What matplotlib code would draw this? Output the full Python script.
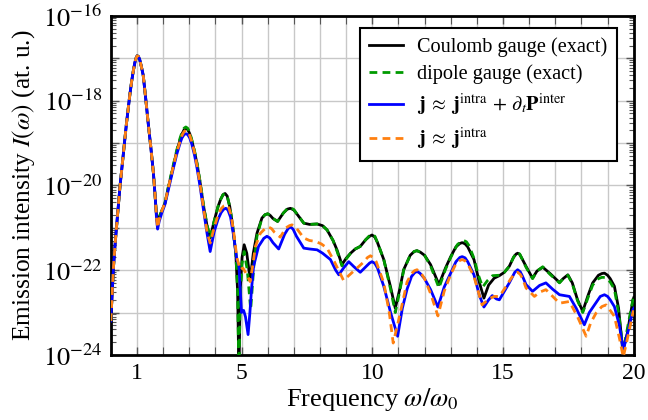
import numpy as np
import matplotlib
matplotlib.use("Agg")
import matplotlib.pyplot as plt
from matplotlib.ticker import FixedLocator, LogLocator, FuncFormatter, NullFormatter

# ---------------- data (log10 of emission intensity, at. u.) ----------------
x_coulomb = [0.0, 0.05, 0.1, 0.16, 0.22, 0.35, 0.48, 0.6, 0.73, 0.8, 0.86, 0.92, 0.97, 1.01,
             1.06, 1.11, 1.17, 1.24, 1.33, 1.43, 1.53, 1.63, 1.7, 1.75, 1.79, 1.85, 1.95, 2.07,
             2.2, 2.39, 2.52, 2.65, 2.72, 2.8, 2.87, 2.94, 3.02, 3.1, 3.2, 3.3, 3.42, 3.55,
             3.68, 3.8, 3.95, 4.1, 4.2, 4.29, 4.37, 4.45, 4.55, 4.65, 4.78, 4.85, 4.9, 4.95,
             5.02, 5.1, 5.2, 5.33, 5.45, 5.59, 5.78, 5.9, 6.0, 6.1, 6.2, 6.38, 6.6, 6.75, 6.87,
             7.0, 7.15, 7.38, 7.6, 7.89, 8.1, 8.27, 8.5, 8.65, 8.84, 9.0, 9.17, 9.35, 9.54,
             9.75, 9.9, 9.99, 10.1, 10.2, 10.44, 10.7, 10.88, 11.05, 11.2, 11.45, 11.6, 11.71,
             11.85, 12.0, 12.23, 12.55, 12.8, 13.0, 13.2, 13.35, 13.44, 13.55, 13.65, 13.89,
             14.1, 14.27, 14.45, 14.66, 14.86, 15.05, 15.24, 15.4, 15.5, 15.56, 15.64, 15.72,
             15.88, 16.13, 16.3, 16.52, 16.8, 17.16, 17.3, 17.48, 17.65, 17.85, 18.05, 18.25,
             18.43, 18.65, 18.78, 18.88, 19.0, 19.1, 19.26, 19.42, 19.58, 19.75, 19.97, 20.0]
logI_coulomb = [-23.2, -22.55, -21.95, -21.42, -20.97, -20.03, -19.25, -18.53, -17.85, -17.53,
                -17.3, -17.1, -16.99, -16.94, -16.96, -17.04, -17.2, -17.4, -17.92, -18.53,
                -19.1, -19.71, -20.3, -20.72, -20.9, -20.75, -20.6, -20.42, -20.05, -19.55,
                -19.2, -18.92, -18.79, -18.69, -18.65, -18.68, -18.78, -18.95, -19.2, -19.5,
                -19.95, -20.5, -20.95, -21.24, -20.85, -20.5, -20.33, -20.22, -20.19, -20.25,
                -20.5, -20.9, -21.6, -22.5, -24.5, -22.5, -21.7, -21.4, -21.6, -22.23, -21.6,
                -21.13, -20.77, -20.69, -20.67, -20.71, -20.78, -20.85, -20.65, -20.56, -20.54,
                -20.58, -20.7, -20.89, -20.92, -20.91, -20.95, -21.05, -21.3, -21.52, -21.87,
                -21.72, -21.6, -21.5, -21.44, -21.28, -21.2, -21.17, -21.22, -21.35, -21.75,
                -22.4, -22.9, -22.45, -21.99, -21.65, -21.56, -21.54, -21.58, -21.65, -21.87,
                -22.34, -21.95, -21.68, -21.45, -21.37, -21.35, -21.38, -21.45, -21.75, -22.3,
                -22.66, -22.35, -22.19, -22.13, -22.05, -21.91, -21.7, -21.62, -21.6, -21.63,
                -21.72, -21.91, -22.19, -22.02, -21.93, -22.08, -22.29, -22.2, -22.11, -22.3,
                -22.7, -22.97, -22.6, -22.3, -22.12, -22.08, -22.07, -22.12, -22.2, -22.38,
                -22.9, -23.9, -23.5, -22.7, -22.65]

x_dipole = [0.0, 0.05, 0.1, 0.16, 0.22, 0.35, 0.48, 0.6, 0.73, 0.8, 0.86, 0.92, 0.97, 1.01,
            1.06, 1.11, 1.17, 1.24, 1.33, 1.43, 1.53, 1.63, 1.7, 1.75, 1.79, 1.85, 1.95, 2.07,
            2.2, 2.39, 2.52, 2.65, 2.72, 2.8, 2.87, 2.94, 3.02, 3.1, 3.2, 3.3, 3.42, 3.55,
            3.68, 3.8, 3.95, 4.1, 4.2, 4.29, 4.37, 4.45, 4.55, 4.65, 4.78, 4.85, 4.9, 4.95,
            5.02, 5.1, 5.22, 5.35, 5.47, 5.59, 5.78, 5.9, 6.0, 6.1, 6.2, 6.38, 6.6, 6.75, 6.87,
            7.0, 7.15, 7.38, 7.6, 7.89, 8.1, 8.27, 8.5, 8.65, 8.84, 9.0, 9.17, 9.35, 9.54,
            9.75, 9.9, 9.99, 10.1, 10.2, 10.44, 10.7, 10.88, 11.05, 11.2, 11.45, 11.6, 11.71,
            11.85, 12.0, 12.23, 12.55, 12.8, 13.0, 13.25, 13.4, 13.5, 13.6, 13.7, 13.89,
            14.05, 14.22, 14.4, 14.6, 14.86, 15.05, 15.24, 15.4, 15.5, 15.56, 15.64, 15.72,
            15.88, 16.13, 16.3, 16.52, 16.8, 17.16, 17.3, 17.48, 17.65, 17.85, 18.05, 18.25,
            18.43, 18.65, 18.78, 18.9, 19.0, 19.1, 19.26, 19.42, 19.6, 19.78, 20.0]
logI_dipole = [-23.2, -22.55, -21.95, -21.42, -20.97, -20.03, -19.25, -18.53, -17.85, -17.53,
               -17.3, -17.1, -16.99, -16.94, -16.96, -17.04, -17.2, -17.4, -17.92, -18.53,
               -19.1, -19.71, -20.3, -20.72, -20.9, -20.75, -20.6, -20.42, -20.03, -19.52,
               -19.17, -18.88, -18.75, -18.65, -18.62, -18.65, -18.75, -18.93, -19.18, -19.48,
               -19.93, -20.48, -20.93, -21.24, -20.85, -20.5, -20.33, -20.22, -20.19, -20.25,
               -20.5, -20.9, -21.6, -22.5, -24.5, -22.6, -21.85, -21.56, -22.0, -22.93, -21.9,
               -21.2, -20.77, -20.69, -20.67, -20.71, -20.78, -20.85, -20.65, -20.55, -20.52,
               -20.57, -20.7, -20.89, -20.92, -20.91, -20.95, -21.05, -21.3, -21.55, -21.9,
               -21.74, -21.6, -21.5, -21.44, -21.28, -21.18, -21.15, -21.2, -21.35, -21.75,
               -22.45, -23.0, -22.5, -22.0, -21.65, -21.56, -21.54, -21.58, -21.65, -21.9,
               -22.42, -21.98, -21.7, -21.4, -21.32, -21.3, -21.33, -21.42, -21.72, -22.1,
               -22.4, -22.25, -22.13, -22.12, -22.05, -21.91, -21.7, -21.6, -21.58, -21.62,
               -21.72, -21.93, -22.2, -22.02, -21.92, -22.1, -22.3, -22.2, -22.12, -22.32,
               -22.72, -23.0, -22.65, -22.35, -22.2, -22.17, -22.17, -22.22, -22.28, -22.45,
               -23.0, -23.9, -23.3, -22.6]

x_intra_inter = [0.0, 0.05, 0.1, 0.16, 0.22, 0.35, 0.48, 0.6, 0.73, 0.8, 0.86, 0.92, 0.97,
                 1.01, 1.06, 1.11, 1.17, 1.24, 1.33, 1.43, 1.53, 1.63, 1.7, 1.75, 1.79, 1.85,
                 1.95, 2.07, 2.2, 2.39, 2.52, 2.65, 2.72, 2.8, 2.87, 2.94, 3.02, 3.1, 3.2, 3.3,
                 3.42, 3.55, 3.68, 3.8, 3.95, 4.1, 4.22, 4.32, 4.4, 4.48, 4.58, 4.7, 4.82, 4.9,
                 5.0, 5.08, 5.15, 5.25, 5.32, 5.38, 5.46, 5.65, 5.85, 5.97, 6.08, 6.2, 6.42,
                 6.65, 6.78, 6.87, 6.97, 7.1, 7.38, 7.6, 7.89, 8.1, 8.4, 8.6, 8.72, 8.9, 9.1,
                 9.3, 9.54, 9.75, 9.9, 9.99, 10.1, 10.2, 10.44, 10.7, 10.97, 11.15, 11.33,
                 11.5, 11.62, 11.71, 11.82, 12.0, 12.23, 12.51, 12.75, 13.0, 13.2, 13.35, 13.44,
                 13.55, 13.65, 13.89, 14.1, 14.27, 14.45, 14.59, 14.75, 14.86, 15.05, 15.24,
                 15.45, 15.56, 15.66, 15.75, 15.88, 16.13, 16.4, 16.64, 16.9, 17.16, 17.54,
                 17.8, 18.11, 18.3, 18.5, 18.72, 18.88, 19.0, 19.1, 19.26, 19.45, 19.6, 19.8,
                 19.97, 20.0]
logI_intra_inter = [-23.2, -22.55, -21.95, -21.42, -20.97, -20.03, -19.25, -18.53, -17.85,
                    -17.53, -17.3, -17.1, -16.99, -16.94, -16.96, -17.04, -17.2, -17.4, -17.92,
                    -18.53, -19.1, -19.71, -20.3, -20.8, -21.03, -20.85, -20.65, -20.45, -20.1,
                    -19.6, -19.27, -19.0, -18.88, -18.8, -18.78, -18.8, -18.88, -19.03, -19.28,
                    -19.6, -20.05, -20.6, -21.13, -21.56, -21.1, -20.8, -20.64, -20.56, -20.54,
                    -20.58, -20.75, -21.2, -21.75, -21.9, -23.0, -22.95, -23.1, -23.52, -23.0,
                    -22.46, -21.91, -21.44, -21.25, -21.2, -21.24, -21.35, -21.5, -21.15,
                    -21.02, -20.98, -21.03, -21.2, -21.48, -21.5, -21.52, -21.6, -21.75, -22.0,
                    -22.11, -21.95, -21.8, -21.92, -22.05, -21.92, -21.83, -21.8, -21.84, -21.95,
                    -22.38, -23.0, -23.56, -22.9, -22.45, -22.15, -22.06, -22.03, -22.07, -22.2,
                    -22.46, -22.87, -22.4, -22.07, -21.8, -21.7, -21.68, -21.71, -21.8, -22.11,
                    -22.6, -22.87, -22.7, -22.6, -22.68, -22.7, -22.5, -22.3, -22.05, -21.99,
                    -22.04, -22.15, -22.34, -22.5, -22.36, -22.3, -22.45, -22.58, -22.62, -22.9,
                    -23.29, -23.0, -22.82, -22.62, -22.58, -22.62, -22.7, -22.86, -23.3, -23.88,
                    -23.4, -22.93, -22.9]

x_intra = [0.0, 0.05, 0.1, 0.16, 0.22, 0.35, 0.48, 0.6, 0.73, 0.8, 0.86, 0.92, 0.97, 1.01,
           1.06, 1.11, 1.17, 1.24, 1.33, 1.43, 1.53, 1.63, 1.7, 1.75, 1.79, 1.85, 1.95, 2.07,
           2.2, 2.39, 2.52, 2.65, 2.72, 2.8, 2.87, 2.94, 3.02, 3.1, 3.2, 3.3, 3.42, 3.55,
           3.68, 3.8, 3.95, 4.1, 4.22, 4.33, 4.42, 4.5, 4.6, 4.7, 4.82, 4.95, 5.05, 5.2,
           5.33, 5.45, 5.53, 5.72, 5.9, 6.03, 6.15, 6.25, 6.48, 6.7, 6.83, 6.93, 7.03, 7.15,
           7.38, 7.6, 7.82, 8.05, 8.27, 8.55, 8.9, 9.15, 9.42, 9.65, 9.82, 9.93, 10.03,
           10.15, 10.44, 10.65, 10.8, 11.0, 11.33, 11.5, 11.62, 11.71, 11.82, 12.0, 12.23,
           12.51, 12.75, 13.0, 13.2, 13.35, 13.44, 13.55, 13.65, 13.89, 14.2, 14.45, 14.66,
           14.86, 15.1, 15.3, 15.45, 15.56, 15.66, 15.75, 15.88, 16.2, 16.4, 16.64, 16.9,
           17.16, 17.54, 17.85, 18.18, 18.35, 18.56, 18.78, 18.94, 19.1, 19.26, 19.45, 19.6,
           19.8, 19.97, 20.0]
logI_intra = [-23.2, -22.55, -21.95, -21.42, -20.97, -20.03, -19.25, -18.53, -17.85, -17.53,
              -17.3, -17.1, -16.99, -16.94, -16.96, -17.04, -17.2, -17.4, -17.92, -18.53,
              -19.1, -19.71, -20.3, -20.78, -21.0, -20.8, -20.6, -20.42, -20.05, -19.55,
              -19.22, -18.95, -18.82, -18.73, -18.7, -18.73, -18.82, -18.97, -19.22, -19.55,
              -20.0, -20.55, -21.1, -21.36, -21.0, -20.7, -20.55, -20.48, -20.46, -20.5,
              -20.7, -21.1, -21.7, -21.99, -21.95, -22.1, -22.27, -21.8, -21.44, -21.13,
              -21.02, -20.98, -21.02, -21.1, -21.22, -21.0, -20.95, -20.93, -20.96, -21.05,
              -21.24, -21.3, -21.32, -21.38, -21.48, -21.8, -22.24, -22.1, -21.95, -21.82,
              -21.7, -21.66, -21.7, -21.8, -22.3, -23.0, -23.72, -23.2, -22.28, -22.08,
              -22.01, -21.99, -22.03, -22.2, -22.55, -23.08, -22.5, -22.1, -21.85, -21.77,
              -21.75, -21.78, -21.85, -22.15, -22.82, -22.68, -22.62, -22.62, -22.4, -22.2,
              -22.08, -22.05, -22.1, -22.2, -22.42, -22.62, -22.52, -22.46, -22.62, -22.78,
              -22.74, -23.1, -23.56, -23.25, -23.01, -22.86, -22.82, -22.95, -23.09, -23.6,
              -24.05, -23.5, -23.0, -22.95]

labels = ["Coulomb gauge (exact)",
          "dipole gauge (exact)",
          r"$\mathbf{j}\;\approx\;\mathbf{j}^{\mathrm{intra}}\,+\,\partial_t\mathbf{P}^{\mathrm{inter}}$",
          r"$\mathbf{j}\;\approx\;\mathbf{j}^{\mathrm{intra}}$"]
xtick_values = [1, 5, 10, 15, 20]

# ---------------- style ----------------
plt.rcParams['font.family'] = ['Liberation Serif', 'DejaVu Serif']
plt.rcParams['mathtext.fontset'] = 'stix'
plt.rcParams['font.size'] = 17

fig = plt.figure(figsize=(6.48, 4.2), dpi=100)
ax = fig.add_axes([0.171, 0.155, 0.807, 0.807])

lw = 2.0
dash = (0, (2.8, 1.9))
ax.plot(x_coulomb, 10.0 ** np.array(logI_coulomb), color='black', lw=lw, label=labels[0], zorder=3)
ax.plot(x_dipole, 10.0 ** np.array(logI_dipole), color='#009a00', lw=lw, ls=dash,
        label=labels[1], zorder=4)
ax.plot(x_intra_inter, 10.0 ** np.array(logI_intra_inter), color='#0000ff', lw=lw,
        label=labels[2], zorder=5)
ax.plot(x_intra, 10.0 ** np.array(logI_intra), color='#ff8010', lw=lw, ls=dash,
        label=labels[3], zorder=6)

ax.set_yscale('log')
ax.set_xlim(0, 20)
ax.set_ylim(1e-24, 1e-16)

ax.xaxis.set_major_locator(FixedLocator(xtick_values))
ax.xaxis.set_minor_locator(FixedLocator(np.arange(0, 21, 1)))
ax.yaxis.set_major_locator(LogLocator(base=10, numticks=20))
ax.yaxis.set_minor_locator(LogLocator(base=10, subs=np.arange(2, 10), numticks=20))


def yfmt(v, pos):
    e = int(round(np.log10(v)))
    if e % 2 == 0:
        return r"$10^{%d}$" % e
    return ""


ax.yaxis.set_major_formatter(FuncFormatter(yfmt))
ax.yaxis.set_minor_formatter(NullFormatter())

ax.grid(True, which='both', axis='x', color='#c8c8c8', lw=1.0, zorder=0)
ax.grid(True, which='major', axis='y', color='#c8c8c8', lw=1.0, zorder=0)
ax.set_axisbelow(True)

ax.tick_params(which='both', direction='in', top=True, right=True)
ax.tick_params(which='major', length=6, width=1.0, colors='#555555', labelcolor='black', pad=6)
ax.tick_params(which='minor', length=3.5, width=0.8, colors='#555555')
ax.tick_params(axis='x', which='minor', length=6)
ax.tick_params(axis='y', labelsize=19)
ax.tick_params(axis='x', labelsize=17)
for s in ax.spines.values():
    s.set_linewidth(2.0)

ax.set_xlabel(r"Frequency $\omega/\omega_0$", fontsize=19, labelpad=1)
ax.set_ylabel(r"Emission intensity $I(\omega)$ (at. u.)", fontsize=18.3, labelpad=4)

leg = ax.legend(loc='upper right', bbox_to_anchor=(0.9675, 0.9646), borderaxespad=0.0,
                fontsize=14.6, frameon=True, fancybox=False, framealpha=1.0,
                edgecolor='black', handlelength=1.7, handletextpad=0.7, borderpad=0.45,
                labelspacing=0.38)
leg.get_frame().set_linewidth(1.5)

fig.savefig("out.png", dpi=100)
